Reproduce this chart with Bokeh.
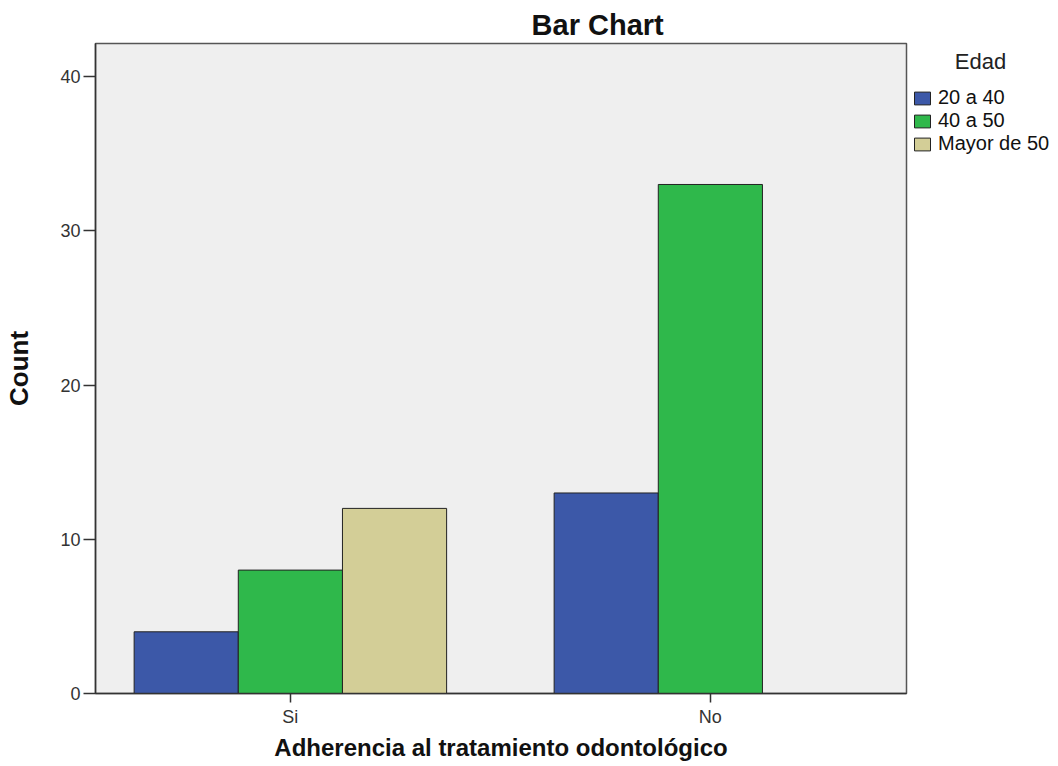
from bokeh.plotting import figure
from bokeh.models import (ColumnDataSource, Legend, LegendItem, FixedTicker,
                          Range1d, Title)
from bokeh.embed import file_html
from bokeh.resources import INLINE
from bokeh.transform import dodge

# ---- data ----
categories = ["Si", "No"]
groups = ["20 a 40", "40 a 50", "Mayor de 50"]
counts_20_40 = [4, 13]
counts_40_50 = [8, 33]
counts_mayor_50 = [12, 0]
y_ticks = [0, 10, 20, 30, 40]

colors = ["#3c58a8", "#2fb84b", "#d3ce97"]
FONT = "Liberation Sans"
NBSP = "\u00a0"

x_pos = list(range(len(categories)))
source = ColumnDataSource(data=dict(
    x=x_pos,
    g1=counts_20_40,
    g2=counts_40_50,
    g3=counts_mayor_50,
))

p = figure(frame_width=811, frame_height=650, output_backend="svg",
           toolbar_location=None,
           x_range=Range1d(-0.464, 1.467), y_range=Range1d(0, 42.14),
           min_border_left=95, min_border_right=152, min_border_top=43,
           min_border_bottom=72, title=None)

p.background_fill_color = "#efefef"
p.border_fill_color = "white"
p.outline_line_color = "#555555"
p.outline_line_width = 1.5
p.grid.visible = False

bw = 0.248
offsets = [-bw, 0.0, bw]
renderers = []
for i, col in enumerate(["g1", "g2", "g3"]):
    r = p.vbar(x=dodge("x", offsets[i], range=p.x_range), top=col, bottom=0,
               width=bw, source=source, fill_color=colors[i],
               line_color="#222222", line_width=1)
    renderers.append(r)

# title (centred text, shifted right with non-breaking spaces)
title = Title(text=NBSP * 24 + "Bar Chart", align="center",
              text_font=FONT, text_font_size="29px", text_font_style="bold",
              text_color="#111111", standoff=5)
p.add_layout(title, "above")

# axes
p.yaxis.ticker = FixedTicker(ticks=y_ticks)
p.xaxis.ticker = FixedTicker(ticks=x_pos)
p.xaxis.major_label_overrides = {i: c for i, c in enumerate(categories)}
for ax in (p.xaxis, p.yaxis):
    ax.axis_line_color = "#333333"
    ax.axis_line_width = 1.5
    ax.major_tick_line_color = "#333333"
    ax.major_tick_line_width = 1.5
    ax.major_tick_in = 0
    ax.minor_tick_line_color = None
    ax.major_label_text_font = FONT
    ax.major_label_text_font_size = "18px"
    ax.major_label_text_color = "#333333"
    ax.axis_label_text_font = FONT
    ax.axis_label_text_font_style = "bold"
    ax.axis_label_text_color = "#111111"

p.yaxis.major_tick_out = 12
p.yaxis.major_label_standoff = 3
p.yaxis.axis_label = "Count"
p.yaxis.axis_label_text_font_size = "26px"
p.yaxis.axis_label_standoff = 23

p.xaxis.major_tick_out = 9
p.xaxis.major_label_standoff = 4
p.xaxis.axis_label = "Adherencia al tratamiento odontológico"
p.xaxis.axis_label_text_font_size = "24px"
p.xaxis.axis_label_standoff = 4

# legend (outside, right of the plot frame)
items = [LegendItem(label=g, renderers=[r]) for g, r in zip(groups, renderers)]
legend = Legend(items=items, location="top_left", margin=6, padding=0,
                title=NBSP * 7 + "Edad", title_text_font=FONT,
                title_text_font_size="22px", title_text_font_style="normal",
                title_text_color="#222222", title_standoff=11,
                border_line_color=None, background_fill_alpha=0,
                glyph_width=20, glyph_height=16, label_height=21, spacing=0,
                label_standoff=6, label_text_font=FONT,
                label_text_font_size="20px", label_text_color="#111111")
p.add_layout(legend, "right")

open("out.html", "w").write(file_html(p, INLINE))
